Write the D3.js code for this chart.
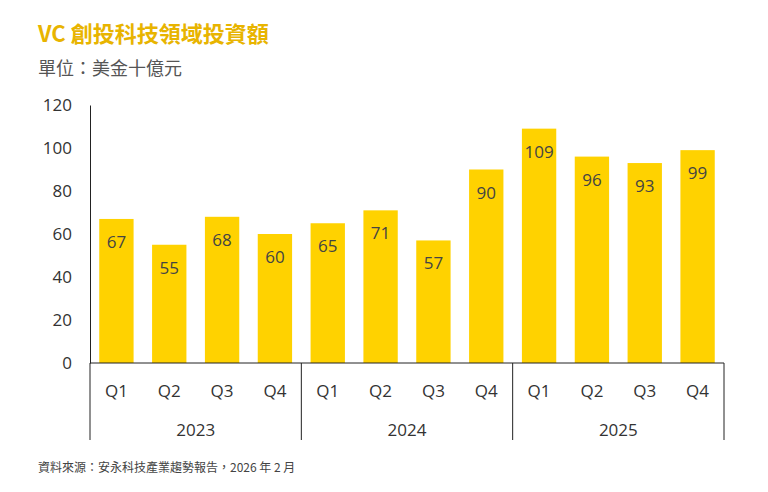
<!DOCTYPE html>
<html><head><meta charset="utf-8">
<script src="https://cdn.jsdelivr.net/npm/d3@7"></script>
<style>body{margin:0;background:#fff;font-family:"Noto Sans CJK TC","Open Sans",sans-serif;}</style>
</head><body>
<svg id="chart" width="768" height="492"></svg>
<script>
var years = ['2023', '2024', '2025'],
    quarters = ['Q1', 'Q2', 'Q3', 'Q4'],
    values = [67, 55, 68, 60, 65, 71, 57, 90, 109, 96, 93, 99],
    yTicks = [0, 20, 40, 60, 80, 100, 120];

var svg = d3.select('#chart'),
    plotLeft = 90, plotRight = 724, plotTop = 105, plotBottom = 363,
    font = '"Open Sans","Noto Sans",sans-serif';

var cats = [];
years.forEach(function (y) { quarters.forEach(function (q) { cats.push(y + q); }); });

var x = d3.scaleBand().domain(cats).range([plotLeft, plotRight]).paddingInner(0.35).paddingOuter(0.175),
    yScale = d3.scaleLinear().domain([0, 120]).range([plotBottom, plotTop]);

svg.append('text').attr('x', 38).attr('y', 42).attr('fill', '#E8B400')
    .attr('font-size', 22).attr('font-weight', 'bold').text('VC 創投科技領域投資額');
svg.append('text').attr('x', 38).attr('y', 75).attr('fill', '#555')
    .attr('font-size', 18).text('單位：美金十億元');

// y axis
var yAxis = svg.append('g').attr('transform', 'translate(' + plotLeft + ',0)')
    .call(d3.axisLeft(yScale).tickValues(yTicks).tickSize(0).tickPadding(18));
yAxis.select('.domain').attr('stroke', '#222');
yAxis.selectAll('text').attr('font-size', 17).attr('font-family', font).attr('fill', '#333');

// bars
svg.selectAll('.bar').data(values).enter().append('rect')
    .attr('x', function (d, i) { return x(cats[i]); })
    .attr('y', function (d) { return yScale(d); })
    .attr('width', x.bandwidth())
    .attr('height', function (d) { return plotBottom - yScale(d); })
    .attr('fill', '#FFD200');

svg.selectAll('.lbl').data(values).enter().append('text')
    .attr('x', function (d, i) { return x(cats[i]) + x.bandwidth() / 2; })
    .attr('y', function (d) { return yScale(d) + 29; })
    .attr('text-anchor', 'middle').attr('font-size', 17).attr('font-family', font)
    .attr('fill', '#444').text(function (d) { return d; });

// x axis
svg.append('line').attr('x1', plotLeft).attr('x2', plotRight).attr('y1', plotBottom).attr('y2', plotBottom).attr('stroke', '#222');
svg.selectAll('.q').data(cats).enter().append('text')
    .attr('x', function (d) { return x(d) + x.bandwidth() / 2; })
    .attr('y', 397).attr('text-anchor', 'middle').attr('font-size', 17).attr('font-family', font)
    .attr('fill', '#333').text(function (d) { return d.slice(4); });

var step = (plotRight - plotLeft) / years.length;
d3.range(years.length + 1).forEach(function (i) {
    svg.append('line').attr('x1', plotLeft + i * step).attr('x2', plotLeft + i * step)
        .attr('y1', plotBottom).attr('y2', 440).attr('stroke', '#222');
});
svg.selectAll('.yr').data(years).enter().append('text')
    .attr('x', function (d, i) { return plotLeft + (i + 0.5) * step; })
    .attr('y', 436).attr('text-anchor', 'middle').attr('font-size', 17).attr('font-family', font)
    .attr('fill', '#333').text(function (d) { return d; });

svg.append('text').attr('x', 38).attr('y', 472).attr('font-size', 12).attr('fill', '#444')
    .text('資料來源：安永科技產業趨勢報告，2026 年 2 月');
</script>
</body></html>
